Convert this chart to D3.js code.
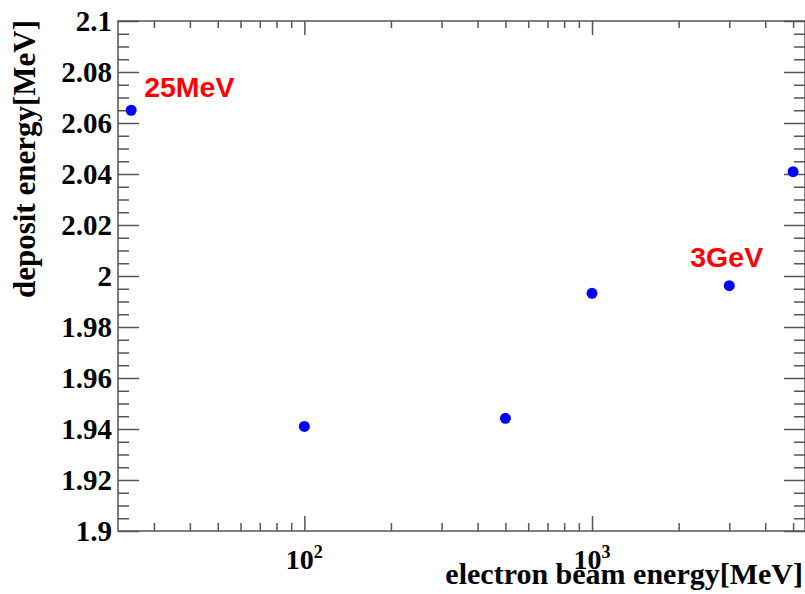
<!DOCTYPE html>
<html>
<head>
<meta charset="utf-8">
<script src="https://cdn.jsdelivr.net/npm/d3@7"></script>
<style>
  html, body { margin: 0; padding: 0; background: #fff; }
  svg { display: block; }
  .tick text { font-family: "Liberation Serif", "DejaVu Serif", serif; font-weight: bold; fill: #000; }
</style>
</head>
<body>
<svg id="chart" width="805" height="594"></svg>
<script>
// Beam energies (MeV) and mean deposited energy (MeV)
const beamEnergy = [25, 100, 500, 1000, 3000, 5000];
const depositEnergy = [2.065, 1.941, 1.9442, 1.9932, 1.9962, 2.0409];

// Annotated points
const noteText = ["25MeV", "3GeV"];
const noteEnergy = [25, 3000];
const noteDeposit = [2.065, 1.9962];

// Axis ticks
const xMajorTicks = [100, 1000];
const xMajorExp = ["2", "3"];
const xMinorTicks = [30, 40, 50, 60, 70, 80, 90, 200, 300, 400, 500, 600, 700, 800, 900, 2000, 3000, 4000, 5000];
const yMajorTicks = [1.9, 1.92, 1.94, 1.96, 1.98, 2.0, 2.02, 2.04, 2.06, 2.08, 2.1];
const yTickLabels = ["1.9", "1.92", "1.94", "1.96", "1.98", "2", "2.02", "2.04", "2.06", "2.08", "2.1"];
const yMinorTicks = d3.range(0, 41).map(i => +(1.9 + i * 0.005).toFixed(3)).filter(v => !yMajorTicks.some(m => Math.abs(m - v) < 1e-6));

const svg = d3.select("#chart");
const plotL = 118, plotR = 805, plotT = 21, plotB = 531;

const x = d3.scaleLog().domain([22.5, 5500]).range([plotL, plotR]);
const y = d3.scaleLinear().domain([1.9, 2.1]).range([plotB, plotT]);

const axisColor = "#555";

function styleAxis(g) {
  g.selectAll(".domain").remove();
  g.selectAll(".tick line").attr("stroke", axisColor).attr("stroke-width", 1.5);
}

// Bottom axis (ticks point inward)
svg.append("g").attr("transform", `translate(0,${plotB})`)
  .call(d3.axisBottom(x).tickValues(xMinorTicks).tickSize(-8).tickFormat(""))
  .call(styleAxis);
svg.append("g").attr("transform", `translate(0,${plotB})`)
  .call(d3.axisBottom(x).tickValues(xMajorTicks).tickSize(-15).tickFormat(""))
  .call(styleAxis);
// Top axis
svg.append("g").attr("transform", `translate(0,${plotT})`)
  .call(d3.axisTop(x).tickValues(xMinorTicks).tickSize(-7).tickFormat(""))
  .call(styleAxis);
svg.append("g").attr("transform", `translate(0,${plotT})`)
  .call(d3.axisTop(x).tickValues(xMajorTicks).tickSize(-14).tickFormat(""))
  .call(styleAxis);

// Left axis
svg.append("g").attr("transform", `translate(${plotL},0)`)
  .call(d3.axisLeft(y).tickValues(yMinorTicks).tickSize(-11).tickFormat(""))
  .call(styleAxis);
const yAxisG = svg.append("g").attr("transform", `translate(${plotL},0)`)
  .call(d3.axisLeft(y).tickValues(yMajorTicks).tickSize(-21).tickPadding(6)
    .tickFormat((d, i) => yTickLabels[i]))
  .call(styleAxis);
yAxisG.selectAll(".tick text").attr("font-size", 29);
// Right axis
svg.append("g").attr("transform", `translate(${plotR},0)`)
  .call(d3.axisRight(y).tickValues(yMinorTicks).tickSize(-11).tickFormat(""))
  .call(styleAxis);
svg.append("g").attr("transform", `translate(${plotR},0)`)
  .call(d3.axisRight(y).tickValues(yMajorTicks).tickSize(-21).tickFormat(""))
  .call(styleAxis);

// Frame
svg.append("rect")
  .attr("x", plotL).attr("y", plotT)
  .attr("width", plotR - plotL).attr("height", plotB - plotT)
  .attr("fill", "none").attr("stroke", axisColor).attr("stroke-width", 1.5);

// Decade labels 10^n
const xl = svg.append("g");
xMajorTicks.forEach((v, i) => {
  const t = xl.append("text")
    .attr("x", x(v)).attr("y", 569)
    .attr("text-anchor", "middle")
    .attr("font-family", "'Liberation Serif', serif")
    .attr("font-weight", "bold")
    .attr("font-size", 28);
  t.append("tspan").text("10");
  t.append("tspan").attr("font-size", 18).attr("dy", -11).text(xMajorExp[i]);
});

// Axis titles
svg.append("text")
  .attr("x", 803).attr("y", 584)
  .attr("text-anchor", "end")
  .attr("font-family", "'Liberation Serif', serif")
  .attr("font-weight", "bold")
  .attr("font-size", 30)
  .text("electron beam energy[MeV]");

svg.append("text")
  .attr("transform", "translate(35,20) rotate(-90)")
  .attr("text-anchor", "end")
  .attr("font-family", "'Liberation Serif', serif")
  .attr("font-weight", "bold")
  .attr("font-size", 31)
  .text("deposit energy[MeV]");

// Data points
svg.append("g").selectAll("circle")
  .data(beamEnergy.map((e, i) => ({ e, d: depositEnergy[i] })))
  .join("circle")
  .attr("cx", p => x(p.e))
  .attr("cy", p => y(p.d))
  .attr("r", 5.5)
  .attr("fill", "#0000ff");

// Annotations
const noteDx = [13, -39];
const noteDy = [-13, -19];
svg.append("g").selectAll("text")
  .data(noteText)
  .join("text")
  .attr("x", (d, i) => x(noteEnergy[i]) + noteDx[i])
  .attr("y", (d, i) => y(noteDeposit[i]) + noteDy[i])
  .attr("font-family", "'Liberation Sans', Arial, sans-serif")
  .attr("font-weight", "bold")
  .attr("font-size", 28.5)
  .attr("fill", "#ff0000")
  .text(d => d);
</script>
</body>
</html>
